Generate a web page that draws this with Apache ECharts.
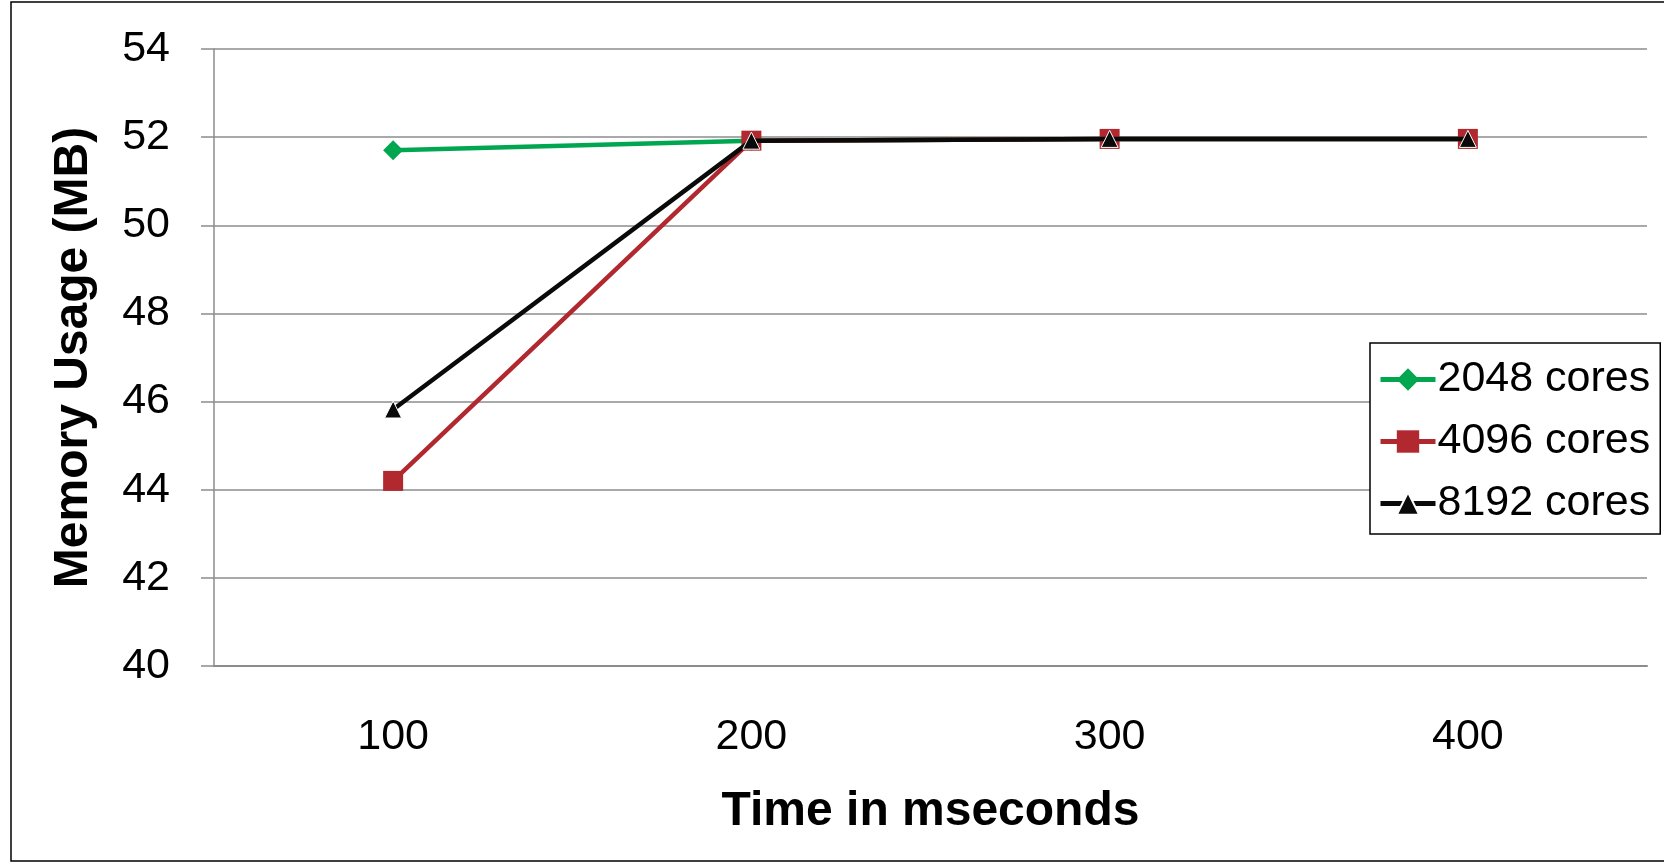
<!DOCTYPE html>
<html>
<head>
<meta charset="utf-8">
<script src="https://cdn.jsdelivr.net/npm/echarts@6/dist/echarts.min.js"></script>
<style>
  html, body { margin: 0; padding: 0; background: #fff; }
  #chart { width: 1664px; height: 864px; }
</style>
</head>
<body>
<div id="chart"></div>
<script>
// data
const categories = ['100', '200', '300', '400']
const cores2048 = [51.7, 51.92, 51.96, 51.96]
const cores4096 = [44.2, 51.92, 51.96, 51.96]
const cores8192 = [45.82, 51.92, 51.96, 51.96]
const seriesNames = ['2048 cores', '4096 cores', '8192 cores']

const chart = echarts.init(document.getElementById('chart'))
const font = 'Liberation Sans, Arial, sans-serif'

chart.setOption({
  animation: false,
  textStyle: { fontFamily: font },
  graphic: [{
    type: 'rect',
    shape: { x: 11, y: 2, width: 1660, height: 859 },
    style: { fill: 'none', stroke: '#000', lineWidth: 1.5 },
    z: -1
  }],
  grid: { left: 214, right: 17, top: 49, bottom: 198 },
  legend: {
    orient: 'vertical',
    left: 1370,
    top: 343,
    width: 290,
    padding: [15, 10, 9, 8],
    itemGap: 19,
    itemWidth: 55,
    itemHeight: 28,
    backgroundColor: '#fff',
    borderColor: '#000',
    borderWidth: 1.5,
    borderRadius: 0,
    lineStyle: { width: 5 },
    textStyle: { fontSize: 43, color: '#000', fontFamily: font, padding: [0, 0, 0, -3] },
    data: seriesNames
  },
  xAxis: {
    type: 'category',
    data: categories,
    boundaryGap: true,
    name: 'Time in mseconds',
    nameLocation: 'middle',
    nameGap: 122,
    nameTextStyle: { fontSize: 48, fontWeight: 'bold', color: '#000' },
    axisLine: { lineStyle: { color: '#8c8c8c', width: 2 } },
    axisTick: { length: 13, lineStyle: { color: '#8c8c8c', width: 1.5 } },
    axisLabel: { fontSize: 43, color: '#000', margin: 50 }
  },
  yAxis: {
    type: 'value',
    min: 40,
    max: 54,
    interval: 2,
    name: 'Memory Usage (MB)',
    nameLocation: 'middle',
    nameGap: 116,
    nameTextStyle: { fontSize: 48, fontWeight: 'bold', color: '#000' },
    axisLine: { show: true, lineStyle: { color: '#8c8c8c', width: 1.5 } },
    axisTick: { show: true, length: 13, lineStyle: { color: '#8c8c8c', width: 1.5 } },
    axisLabel: { fontSize: 43, color: '#000', margin: 44 },
    splitLine: { lineStyle: { color: '#8c8c8c', width: 1.5 } }
  },
  series: [
    {
      name: seriesNames[0],
      type: 'line',
      data: cores2048,
      symbol: 'diamond',
      symbolSize: 20,
      color: '#00a650',
      lineStyle: { width: 4.5 },
      z: 2
    },
    {
      name: seriesNames[1],
      type: 'line',
      data: cores4096,
      symbol: 'rect',
      symbolSize: 20,
      color: '#b1282e',
      lineStyle: { width: 4.5 },
      z: 3
    },
    {
      name: seriesNames[2],
      type: 'line',
      data: cores8192,
      symbol: 'triangle',
      symbolSize: 17,
      color: '#0a0a0a',
      itemStyle: { borderColor: '#fff', borderWidth: 1 },
      lineStyle: { width: 4.5 },
      z: 4
    }
  ]
})
</script>
</body>
</html>
